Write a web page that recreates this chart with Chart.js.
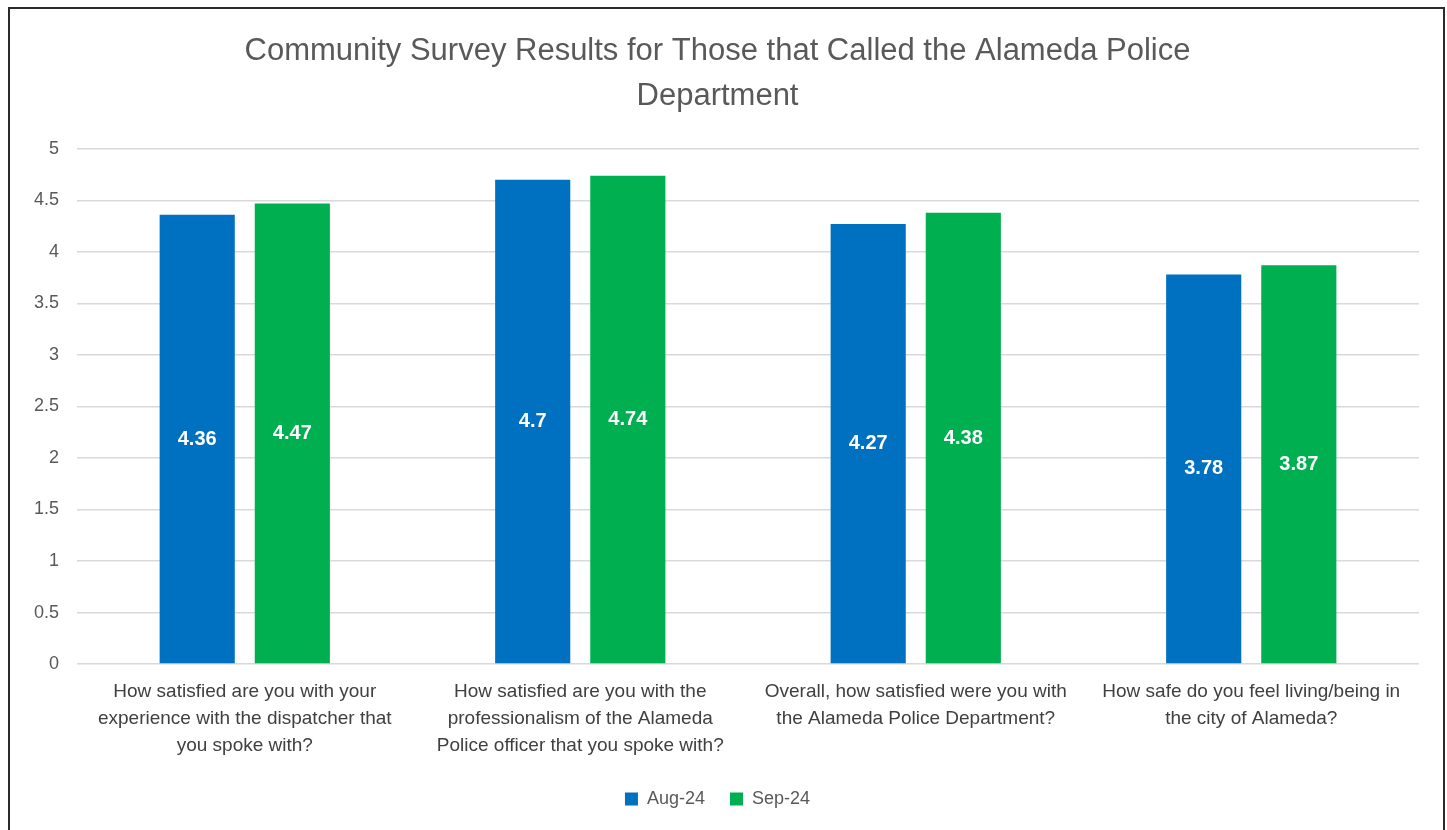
<!DOCTYPE html>
<html>
<head>
<meta charset="utf-8">
<script src="https://cdn.jsdelivr.net/npm/chart.js@4.4.1/dist/chart.umd.min.js"></script>
<style>
  html, body { margin: 0; padding: 0; background: #fff; overflow: hidden; }
  #frame {
    position: absolute; left: 8px; top: 7px; width: 1433px; height: 840px;
    border: 2px solid #2b2b2b; background: #fff;
  }
  #wrap { position: absolute; left: 0; top: 0; width: 1433px; height: 821px; }
</style>
</head>
<body>
<div id="frame"><div id="wrap"><canvas id="chart"></canvas></div></div>
<script>
const categories = [
  ["How satisfied are you with your", "experience with the dispatcher that", "you spoke with?"],
  ["How satisfied are you with the", "professionalism of the Alameda", "Police officer that you spoke with?"],
  ["Overall, how satisfied were you with", "the Alameda Police Department?"],
  ["How safe do you feel living/being in", "the city of Alameda?"]
];
const aug24 = [4.36, 4.7, 4.27, 3.78];
const sep24 = [4.47, 4.74, 4.38, 3.87];
const seriesNames = ["Aug-24", "Sep-24"];
const FONT = "'Liberation Sans', Arial, sans-serif";

// 막대 가운데에 값 표시
const barLabels = {
  id: "barLabels",
  afterDatasetsDraw(chart) {
    const ctx = chart.ctx;
    ctx.save();
    ctx.fillStyle = "#ffffff";
    ctx.font = "bold 20px " + FONT;
    ctx.textAlign = "center";
    ctx.textBaseline = "middle";
    chart.data.datasets.forEach((ds, i) => {
      chart.getDatasetMeta(i).data.forEach((bar, j) => {
        const y = (bar.y + bar.base) / 2;
        ctx.fillText(String(ds.data[j]), bar.x, y);
      });
    });
    ctx.restore();
  }
};

const ctx = document.getElementById("chart").getContext("2d");
new Chart(ctx, {
  type: "bar",
  data: {
    labels: categories,
    datasets: [
      { label: seriesNames[0], data: aug24, backgroundColor: "#0070C0" },
      { label: seriesNames[1], data: sep24, backgroundColor: "#00B050" }
    ]
  },
  options: {
    responsive: true,
    maintainAspectRatio: false,
    animation: false,
    layout: { padding: { left: 6, right: 24, top: 6, bottom: 12 } },
    datasets: { bar: { categoryPercentage: 0.567, barPercentage: 0.79 } },
    scales: {
      x: {
        grid: { display: false },
        border: { display: false },
        ticks: { color: "#404040", font: { family: FONT, size: 19, lineHeight: 1.42 }, maxRotation: 0, autoSkip: false, padding: 6 }
      },
      y: {
        min: 0, max: 5,
        ticks: {
          stepSize: 0.5, color: "#595959", font: { family: FONT, size: 18 }, padding: 18,
          callback: (v) => String(v)
        },
        grid: { color: "#d9d9d9", lineWidth: 1.5, drawTicks: false },
        border: { display: false }
      }
    },
    plugins: {
      title: {
        display: true,
        text: ["Community Survey Results for Those that Called the Alameda Police", "Department"],
        color: "#595959",
        font: { family: FONT, size: 31, weight: "normal", lineHeight: 1.45 },
        padding: { top: 14, bottom: 30 }
      },
      legend: {
        position: "bottom",
        labels: { color: "#595959", font: { family: FONT, size: 18 }, boxWidth: 13, boxHeight: 13, padding: 25 }
      },
      tooltip: { enabled: false }
    }
  },
  plugins: [barLabels]
});
</script>
</body>
</html>
